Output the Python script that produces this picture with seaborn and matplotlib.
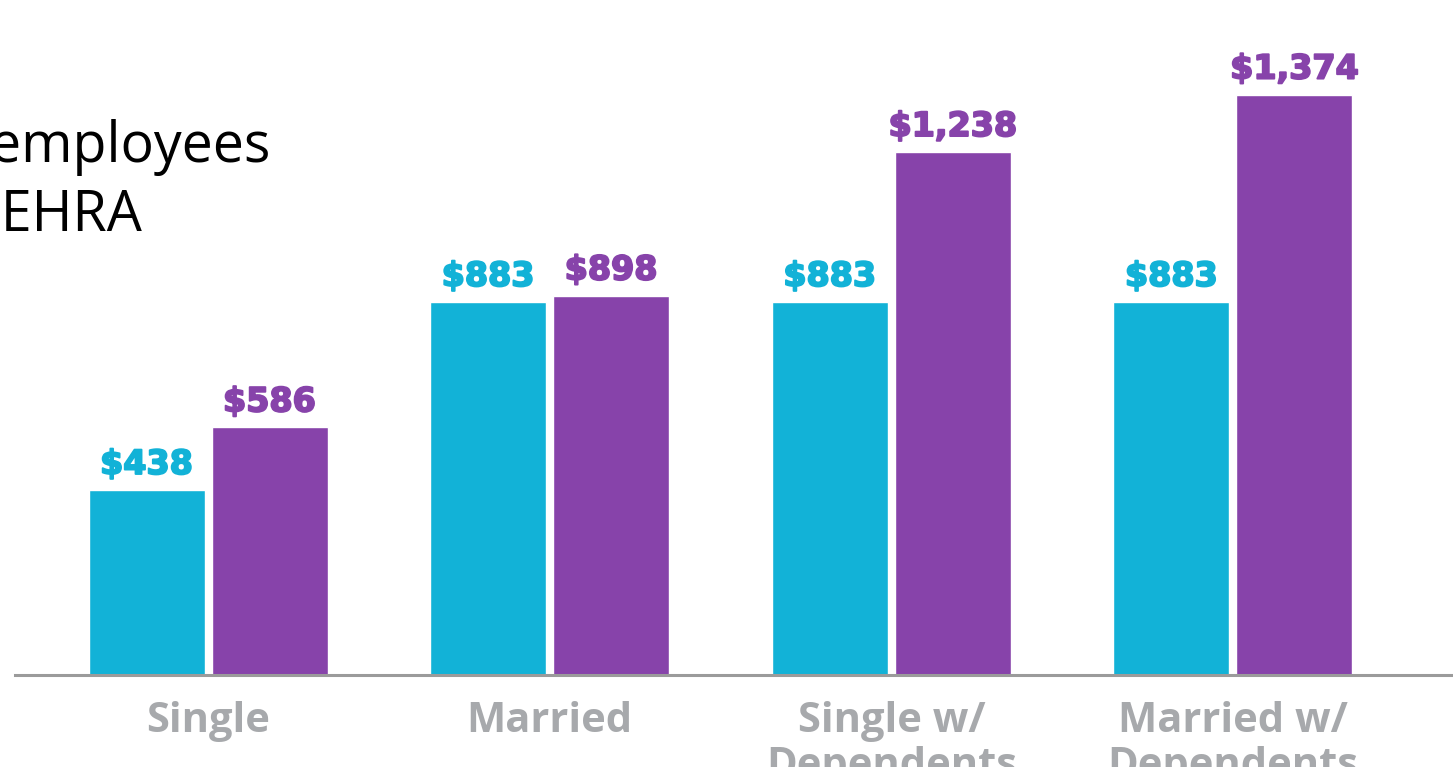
import matplotlib
matplotlib.use("Agg")
import matplotlib.pyplot as plt
import matplotlib.patheffects as pe
import seaborn as sns
import pandas as pd

categories = ["Single", "Married", "Single w/\nDependents", "Married w/\nDependents"]
series = ["QSEHRA", "ICHRA"]
qsehra = [438, 883, 883, 883]
ichra = [586, 898, 1238, 1374]
colors = ["#12B2D7", "#8743AA"]

df = pd.DataFrame({
    "category": categories * 2,
    "plan": [series[0]] * len(categories) + [series[1]] * len(categories),
    "amount": qsehra + ichra,
})

sns.set_theme(style="white")
plt.rcParams["font.family"] = ["DejaVu Sans"]

W, H = 1453, 767
fig = plt.figure(figsize=(W / 100, H / 100), dpi=100)
ax = fig.add_axes([15 / W, 92 / H, 1 - 15 / W, 675 / H])

sns.barplot(data=df, x="category", y="amount", hue="plan", palette=colors,
            width=0.72, gap=0.057, saturation=1, legend=False, ax=ax)

ax.set_xlim(-0.565, 3.644)
ax.set_ylim(0, 1598)

for cont, col in zip(ax.containers, colors):
    texts = ax.bar_label(cont, labels=[f"${v:,.0f}" for v in cont.datavalues],
                         padding=6.5, color=col, fontsize=24, fontweight="bold")
    for t in texts:
        # heavier strokes, closer to the chunky font of the original
        t.set_path_effects([pe.withStroke(linewidth=1.4, foreground=col)])

for side in ["left", "right", "top"]:
    ax.spines[side].set_visible(False)
ax.spines["bottom"].set_color("#9B9B9B")
ax.spines["bottom"].set_linewidth(2.2)
ax.set_yticks([])
ax.set_xlabel("")
ax.set_ylabel("")
ax.tick_params(axis="x", length=0, pad=18.5)
for lbl in ax.get_xticklabels():
    lbl.set_fontfamily(["Open Sans", "DejaVu Sans"])
    lbl.set_fontsize(30)
    lbl.set_fontweight("bold")
    lbl.set_color("#A7A9AC")
    lbl.set_linespacing(1.15)

# heading, cut off at the left edge in the original
fig.text(270 / W, 1 - 162 / H, "for employees", ha="right", va="baseline",
         fontsize=40, family=["Open Sans", "DejaVu Sans"], color="black")
fig.text(142 / W, 1 - 230 / H, "with a QSEHRA", ha="right", va="baseline",
         fontsize=40, family=["Open Sans", "DejaVu Sans"], color="black")

fig.savefig("out.png", dpi=100)
